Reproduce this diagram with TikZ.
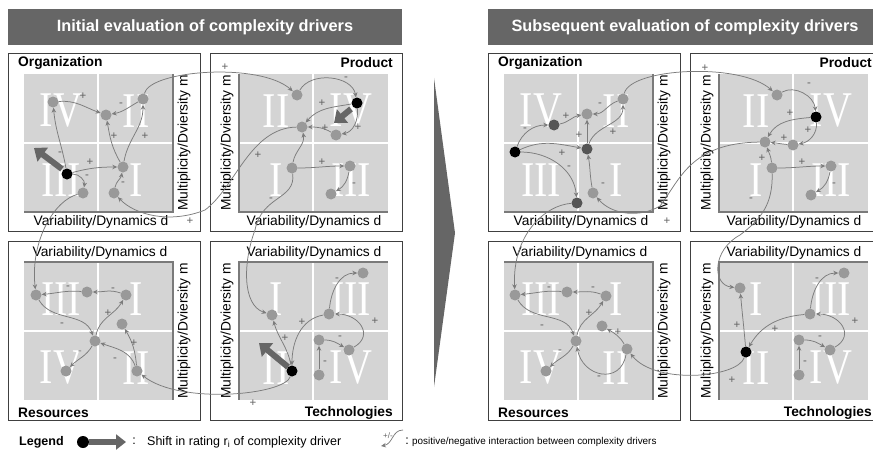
\documentclass[tikz,border=0pt]{standalone}
\usepackage{graphicx}
\usepackage{fontspec}
\setmainfont{Liberation Sans}
\newfontfamily\numfont{Liberation Serif}
\usetikzlibrary{arrows.meta}

\definecolor{gridgray}{HTML}{D4D4D4}
\definecolor{drvgray}{HTML}{999999}
\definecolor{drvdark}{HTML}{555555}
\definecolor{linegray}{HTML}{7C7C7C}
\definecolor{signgray}{HTML}{626262}
\definecolor{bargray}{HTML}{666666}
\definecolor{axisgray}{HTML}{7A7A7A}

\tikzset{
  drv/.style={circle, fill=drvgray, inner sep=0pt, minimum size=11pt},
  drvblk/.style={drv, fill=black},
  drvdrk/.style={drv, fill=drvdark},
  infl/.style={draw=linegray, line width=0.75pt, -{Stealth[length=5pt,width=4.5pt]}},
  sgn/.style={text=signgray, inner sep=0pt, font=\fontsize{11.5}{11.5}\selectfont},
  shiftarr/.style={draw=bargray, line width=6pt, -{Triangle[length=11pt,width=17pt]}},
  numeral/.style={text=white, inner sep=0pt, font=\numfont\fontsize{40}{40}\selectfont},
  titlebar/.style={fill=bargray, text=white, minimum width=394pt, minimum height=36pt, inner sep=0pt, font=\bfseries\fontsize{16.3}{17}\selectfont},
  panelbox/.style={draw=black!75, line width=0.8pt},
  axisline/.style={draw=axisgray, line width=1.4pt},
  axlab/.style={inner sep=0pt, font=\fontsize{13.8}{14}\selectfont},
  panlab/.style={inner sep=0pt, font=\bfseries\fontsize{13.8}{14}\selectfont},
}

% grey quadrant field with its four roman numerals
\newcommand{\quadrants}[7]{%
  \fill[gridgray] (#2,-#3) rectangle ++(149,-138);
  \draw[white, line width=1.2pt] (#2+74,-#3) -- ++(0,-138) (#2,-#3-69) -- ++(149,0);
  \node[numeral] (#1tl) at (#2+37,-#3-37) {\scalebox{1}[1.25]{#4}};
  \node[numeral] (#1tr) at (#2+112,-#3-37) {\scalebox{1}[1.25]{#5}};
  \node[numeral] (#1bl) at (#2+37,-#3-106) {\scalebox{1}[1.25]{#6}};
  \node[numeral] (#1br) at (#2+112,-#3-106) {\scalebox{1}[1.25]{#7}};
}

\begin{document}
\begin{tikzpicture}[x=1pt,y=1pt]
  \useasboundingbox (0,0) rectangle (873,-452);
  \clip (0,0) rectangle (873,-452);

  % headers
  \node[titlebar] (ttla) at (205,-27) {Initial evaluation of complexity drivers};
  \node[titlebar] (ttlb) at (685,-27) {Subsequent evaluation of complexity drivers};

  % panels, initial
  \draw[panelbox] (8,-53) rectangle (200,-231);
  \draw[panelbox] (210,-53) rectangle (402,-231);
  \draw[panelbox] (8,-241) rectangle (200,-420);
  \draw[panelbox] (210,-241) rectangle (402,-420);
  \quadrants{qao}{24}{74}{IV}{II}{III}{I}
  \quadrants{qap}{239}{74}{II}{IV}{I}{III}
  \quadrants{qar}{24}{262}{III}{I}{IV}{II}
  \quadrants{qat}{239}{262}{I}{III}{II}{IV}
  \draw[axisline] (173,-74) -- (173,-212) -- (24,-212);
  \draw[axisline] (239,-74) -- (239,-212) -- (388,-212);
  \draw[axisline] (24,-262) -- (173,-262) -- (173,-400);
  \draw[axisline] (388,-262) -- (239,-262) -- (239,-400);
  \node[axlab] (dao) at (101,-222) {Variability/Dynamics d};
  \node[axlab] (dap) at (314,-222) {Variability/Dynamics d};
  \node[axlab] (dar) at (100,-253) {Variability/Dynamics d};
  \node[axlab] (dat) at (314,-253) {Variability/Dynamics d};
  \node[axlab, rotate=90] (mao) at (184,-143) {Multiplicity/Dviersity m};
  \node[axlab, rotate=90] (map) at (227,-143) {Multiplicity/Dviersity m};
  \node[axlab, rotate=90] (mar) at (184,-331) {Multiplicity/Dviersity m};
  \node[axlab, rotate=90] (mat) at (227,-331) {Multiplicity/Dviersity m};
  \node[panlab, anchor=west] (lao) at (18,-63) {Organization};
  \node[panlab, anchor=east] (lap) at (393,-63) {Product};
  \node[panlab, anchor=west] (lar) at (18,-413) {Resources};
  \node[panlab, anchor=east] (lat) at (393,-413) {Technologies};

  % panels, subsequent
  \draw[panelbox] (488,-53) rectangle (680,-231);
  \draw[panelbox] (690,-53) rectangle (882,-231);
  \draw[panelbox] (488,-241) rectangle (680,-420);
  \draw[panelbox] (690,-241) rectangle (882,-420);
  \quadrants{qbo}{504}{74}{IV}{II}{III}{I}
  \quadrants{qbp}{719}{74}{II}{IV}{I}{III}
  \quadrants{qbr}{504}{262}{III}{I}{IV}{II}
  \quadrants{qbt}{719}{262}{I}{III}{II}{IV}
  \draw[axisline] (653,-74) -- (653,-212) -- (504,-212);
  \draw[axisline] (719,-74) -- (719,-212) -- (868,-212);
  \draw[axisline] (504,-262) -- (653,-262) -- (653,-400);
  \draw[axisline] (868,-262) -- (719,-262) -- (719,-400);
  \node[axlab] (dbo) at (581,-222) {Variability/Dynamics d};
  \node[axlab] (dbp) at (794,-222) {Variability/Dynamics d};
  \node[axlab] (dbr) at (580,-253) {Variability/Dynamics d};
  \node[axlab] (dbt) at (794,-253) {Variability/Dynamics d};
  \node[axlab, rotate=90] (mbo) at (664,-143) {Multiplicity/Dviersity m};
  \node[axlab, rotate=90] (mbp) at (707,-143) {Multiplicity/Dviersity m};
  \node[axlab, rotate=90] (mbr) at (664,-331) {Multiplicity/Dviersity m};
  \node[axlab, rotate=90] (mbt) at (707,-331) {Multiplicity/Dviersity m};
  \node[panlab, anchor=west] (lbo) at (498,-63) {Organization};
  \node[panlab, anchor=east] (lbp) at (872,-63) {Product};
  \node[panlab, anchor=west] (lbr) at (498,-413) {Resources};
  \node[panlab, anchor=east] (lbt) at (872,-413) {Technologies};

  % big arrow in the middle
  \fill[bargray] (434,-78) -- (455,-233) -- (434,-387) -- cycle;

  % shifts of rating
  \coordinate (sho1) at (62,-169); \coordinate (sho2) at (34,-148);
  \coordinate (shp1) at (351,-109); \coordinate (shp2) at (334,-123);
  \coordinate (sht1) at (288,-367); \coordinate (sht2) at (259,-343);
  \draw[shiftarr] (sho1) -- (sho2);
  \draw[shiftarr] (shp1) -- (shp2);
  \draw[shiftarr] (sht1) -- (sht2);

  % drivers, initial
  \node[drv] (ao1) at (53,-102) {};
  \node[drv] (ao2) at (106,-115) {};
  \node[drv] (ao3) at (143,-99) {};
  \node[drvblk] (ao4) at (67,-174) {};
  \node[drv] (ao5) at (123,-167) {};
  \node[drv] (ao6) at (83,-193) {};
  \node[drv] (ao7) at (114,-193) {};

  \node[drv] (ap1) at (297,-95) {};
  \node[drvblk] (ap2) at (357,-103) {};
  \node[drv] (ap3) at (302,-127) {};
  \node[drv] (ap4) at (336,-135) {};
  \node[drv] (ap5) at (292,-168) {};
  \node[drv] (ap6) at (350,-166) {};
  \node[drv] (ap7) at (331,-194) {};

  \node[drv] (ar1) at (36,-295) {};
  \node[drv] (ar2) at (87,-292) {};
  \node[drv] (ar3) at (126,-295) {};
  \node[drv] (ar4) at (122,-324) {};
  \node[drv] (ar5) at (95,-341) {};
  \node[drv] (ar6) at (66,-371) {};
  \node[drv] (ar7) at (137,-371) {};

  \node[drv] (at1) at (272,-315) {};
  \node[drv] (at2) at (363,-273) {};
  \node[drv] (at3) at (329,-314) {};
  \node[drv] (at4) at (319,-340) {};
  \node[drv] (at5) at (349,-350) {};
  \node[drvblk] (at6) at (292,-371) {};
  \node[drv] (at7) at (319,-375) {};

  \draw[infl] (ao4) to[out=100,in=-85] (ao1);
  \draw[infl] (ao1) to[out=5,in=160] (ao2);
  \draw[infl] (ao3) to[out=210,in=10] (ao2);
  \draw[infl] (ao5) to[out=120,in=-80] (ao2);
  \draw[infl] (ao5) to[out=80,in=-90] (ao3);
  \draw[infl] (ao4) to[out=15,in=180] (ao5);
  \draw[infl] (ao4) to[out=0,in=80] (ao6);
  \draw[infl] (ao7) to[out=80,in=-100] (ao5);

  \draw[infl] (ap1) to[out=60,in=100] (ap2);
  \draw[infl] (ap2) to[out=190,in=50] (ap3);
  \draw[infl] (ap4) to[out=150,in=0] (ap3);
  \draw[infl] (ap2) to[out=-85,in=10] (ap4);
  \draw[infl] (ap5) to[out=80,in=-80] (ap3);
  \draw[infl] (ap5) to[out=0,in=180] (ap6);
  \draw[infl] (ap6) to[out=-100,in=30] (ap7);

  \draw[infl] (ar2) to[out=175,in=5] (ar1);
  \draw[infl] (ar3) to[out=160,in=0] (ar2);
  \draw[infl] (ar1) to[out=-60,in=110] (ar5);
  \draw[infl] (ar5) to[out=80,in=-120] (ar3);
  \draw[infl] (ar5) to[out=-120,in=45] (ar6);
  \draw[infl] (ar7) to[out=110,in=-20] (ar5);
  \draw[infl] (ar7) to[out=95,in=-60] (ar4);

  \draw[infl] (at6) to[out=100,in=-75] (at1);
  \draw[infl] (at3) to[out=190,in=90] (at6);
  \draw[infl] (at3) to[out=85,in=180] (at2);
  \draw[infl] (at5) to[out=30,in=0,looseness=1.6] (at3);
  \draw[infl] (at4) to[out=0,in=150] (at5);
  \draw[infl] (at7) -- (at4);

  \draw[infl] (ao3) .. controls (150,-70) and (260,-62) .. (ap1);
  \draw[infl] (ap3) .. controls (250,-128) and (235,-188) .. (205,-210) .. controls (170,-224) and (135,-215) .. (ao7);
  \draw[infl] (ao6) .. controls (55,-200) and (30,-240) .. (ar1);
  \draw[infl] (ap5) .. controls (296,-200) and (262,-195) .. (255,-230) .. controls (243,-262) and (242,-305) .. (at1);
  \draw[infl] (at6) .. controls (285,-395) and (180,-405) .. (ar7);

  \node[sgn] (sao1) at (60,-154) {-};
  \node[sgn] (sao2) at (83,-96) {+};
  \node[sgn] (sao3) at (121,-105) {-};
  \node[sgn] (sao4) at (114,-136) {+};
  \node[sgn] (sao5) at (145,-136) {+};
  \node[sgn] (sao6) at (90,-162) {+};
  \node[sgn] (sao7) at (87,-177) {-};
  \node[sgn] (sao8) at (123,-184) {-};
  \node[sgn] (sao9) at (225,-67) {+};
  \node[sgn] (sao10) at (258,-155) {+};
  \node[sgn] (sao11) at (190,-221) {+};
  \node[sgn] (sap1) at (346,-79) {-};
  \node[sgn] (sap2) at (322,-103) {+};
  \node[sgn] (sap3) at (325,-128) {+};
  \node[sgn] (sap4) at (358,-127) {+};
  \node[sgn] (sap5) at (322,-162) {+};
  \node[sgn] (sap6) at (354,-185) {-};
  \node[sgn] (sap7) at (271,-200) {-};
  \node[sgn] (sar1) at (68,-288) {-};
  \node[sgn] (sar2) at (113,-290) {-};
  \node[sgn] (sar3) at (62,-325) {-};
  \node[sgn] (sar4) at (108,-313) {+};
  \node[sgn] (sar5) at (80,-353) {-};
  \node[sgn] (sar6) at (115,-360) {-};
  \node[sgn] (sar7) at (134,-343) {+};
  \node[sgn] (sar8) at (253,-403) {+};
  \node[sgn] (sat1) at (285,-338) {+};
  \node[sgn] (sat2) at (302,-322) {+};
  \node[sgn] (sat3) at (337,-280) {-};
  \node[sgn] (sat4) at (375,-321) {+};
  \node[sgn] (sat5) at (340,-338) {-};
  \node[sgn] (sat6) at (325,-363) {-};

  % drivers, subsequent
  \node[drvblk] (bo1) at (515,-152) {};
  \node[drvdrk] (bo2) at (554,-125) {};
  \node[drv] (bo3) at (587,-114) {};
  \node[drv] (bo4) at (623,-99) {};
  \node[drvdrk] (bo5) at (587,-149) {};
  \node[drv] (bo6) at (593,-193) {};
  \node[drvdrk] (bo7) at (577,-203) {};

  \node[drv] (bp1) at (777,-95) {};
  \node[drvblk] (bp2) at (816,-117) {};
  \node[drv] (bp3) at (765,-142) {};
  \node[drv] (bp4) at (793,-145) {};
  \node[drv] (bp5) at (772,-168) {};
  \node[drv] (bp6) at (831,-166) {};
  \node[drv] (bp7) at (811,-195) {};

  \node[drv] (br1) at (515,-295) {};
  \node[drv] (br2) at (567,-292) {};
  \node[drv] (br3) at (606,-296) {};
  \node[drv] (br4) at (602,-326) {};
  \node[drv] (br5) at (576,-341) {};
  \node[drv] (br6) at (546,-371) {};
  \node[drv] (br7) at (627,-349) {};

  \node[drv] (bt1) at (740,-288) {};
  \node[drv] (bt2) at (844,-273) {};
  \node[drv] (bt3) at (810,-314) {};
  \node[drv] (bt4) at (799,-340) {};
  \node[drv] (bt5) at (830,-350) {};
  \node[drvblk] (bt6) at (746,-352) {};
  \node[drv] (bt7) at (799,-375) {};

  \draw[infl] (bo1) to[out=70,in=180] (bo2);
  \draw[infl] (bo2) to[out=10,in=190] (bo3);
  \draw[infl] (bo4) to[out=200,in=0] (bo3);
  \draw[infl] (bo5) -- (bo3);
  \draw[infl] (bo5) to[out=70,in=-90] (bo4);
  \draw[infl] (bo1) to[out=25,in=170] (bo5);
  \draw[infl] (bo1) to[out=0,in=95] (bo7);
  \draw[infl] (bo6) to[out=100,in=-80] (bo5);

  \draw[infl] (bp1) to[out=30,in=95] (bp2);
  \draw[infl] (bp2) to[out=185,in=60] (bp3);
  \draw[infl] (bp4) to[out=175,in=-5] (bp3);
  \draw[infl] (bp2) to[out=-85,in=10] (bp4);
  \draw[infl] (bp5) to[out=95,in=-70] (bp3);
  \draw[infl] (bp5) to[out=0,in=180] (bp6);
  \draw[infl] (bp6) to[out=-100,in=30] (bp7);

  \draw[infl] (br2) to[out=175,in=5] (br1);
  \draw[infl] (br3) to[out=160,in=0] (br2);
  \draw[infl] (br1) to[out=-60,in=110] (br5);
  \draw[infl] (br5) to[out=80,in=-120] (br3);
  \draw[infl] (br5) to[out=-120,in=45] (br6);
  \draw[infl] (br7) to[out=120,in=-30] (br4);
  \draw[infl] (br7) to[out=-100,in=-80,looseness=1.6] (br5);

  \draw[infl] (bt6) to[out=95,in=-85] (bt1);
  \draw[infl] (bt3) to[out=185,in=60] (bt6);
  \draw[infl] (bt3) to[out=85,in=180] (bt2);
  \draw[infl] (bt5) to[out=30,in=0,looseness=1.6] (bt3);
  \draw[infl] (bt4) to[out=0,in=150] (bt5);
  \draw[infl] (bt7) -- (bt4);

  \draw[infl] (bo4) .. controls (630,-68) and (740,-62) .. (bp1);
  \draw[infl] (bp3) .. controls (690,-143) and (680,-180) .. (660,-206) .. controls (640,-218) and (612,-215) .. (bo6);
  \draw[infl] (bo7) .. controls (545,-205) and (512,-235) .. (br1);
  \draw[infl] (bp5) .. controls (773,-205) and (760,-220) .. (740,-235) .. controls (712,-250) and (712,-285) .. (bt1);
  \draw[infl] (bt6) .. controls (738,-378) and (655,-385) .. (br7);

  \node[sgn] (sbo1) at (525,-130) {-};
  \node[sgn] (sbo2) at (566,-116) {+};
  \node[sgn] (sbo3) at (600,-105) {-};
  \node[sgn] (sbo4) at (579,-135) {+};
  \node[sgn] (sbo5) at (613,-132) {+};
  \node[sgn] (sbo6) at (562,-153) {+};
  \node[sgn] (sbo7) at (569,-168) {-};
  \node[sgn] (sbo8) at (603,-185) {-};
  \node[sgn] (sbo9) at (705,-68) {+};
  \node[sgn] (sbo10) at (667,-221) {+};
  \node[sgn] (sbp1) at (809,-85) {-};
  \node[sgn] (sbp2) at (790,-113) {+};
  \node[sgn] (sbp3) at (784,-138) {+};
  \node[sgn] (sbp4) at (808,-130) {+};
  \node[sgn] (sbp5) at (762,-158) {+};
  \node[sgn] (sbp6) at (802,-162) {+};
  \node[sgn] (sbp7) at (834,-185) {-};
  \node[sgn] (sbp8) at (751,-200) {-};
  \node[sgn] (sbr1) at (549,-289) {-};
  \node[sgn] (sbr2) at (593,-289) {-};
  \node[sgn] (sbr3) at (542,-327) {-};
  \node[sgn] (sbr4) at (589,-313) {+};
  \node[sgn] (sbr5) at (560,-352) {-};
  \node[sgn] (sbr6) at (618,-332) {+};
  \node[sgn] (sbr7) at (599,-378) {-};
  \node[sgn] (sbt1) at (737,-325) {+};
  \node[sgn] (sbt2) at (775,-329) {+};
  \node[sgn] (sbt3) at (817,-280) {-};
  \node[sgn] (sbt4) at (855,-321) {+};
  \node[sgn] (sbt5) at (820,-338) {-};
  \node[sgn] (sbt6) at (805,-363) {-};
  \node[sgn] (sbt7) at (732,-380) {+};

  % legend
  \node[anchor=west, inner sep=0pt, font=\bfseries\fontsize{12.5}{13}\selectfont] (leg) at (19,-442) {Legend};
  \node[drvblk, minimum size=12pt] (legdot) at (83,-442) {};
  \coordinate (legs) at (89,-442); \coordinate (lege) at (126,-442);
  \draw[draw=bargray, line width=6pt, -{Triangle[length=10pt,width=15pt]}] (legs) -- (lege);
  \node[inner sep=0pt, font=\fontsize{12.5}{13}\selectfont] (legc1) at (134,-441) {:};
  \node[anchor=west, inner sep=0pt, font=\fontsize{12.5}{13}\selectfont] (legt1) at (147,-442) {Shift in rating r\textsubscript{i} of complexity driver};
  \node[sgn, font=\fontsize{8}{8}\selectfont] (legpm) at (388,-436) {+/-};
  \coordinate (legc) at (403,-430); \coordinate (legd) at (381,-446);
  \draw[infl] (legc) .. controls (392,-430) and (393,-444) .. (legd);
  \node[inner sep=0pt, font=\fontsize{12.5}{13}\selectfont] (legc2) at (407,-441) {:};
  \node[anchor=west, inner sep=0pt, font=\fontsize{9.9}{10}\selectfont] (legt2) at (412,-442) {positive/negative interaction between complexity drivers};
\end{tikzpicture}
\end{document}
